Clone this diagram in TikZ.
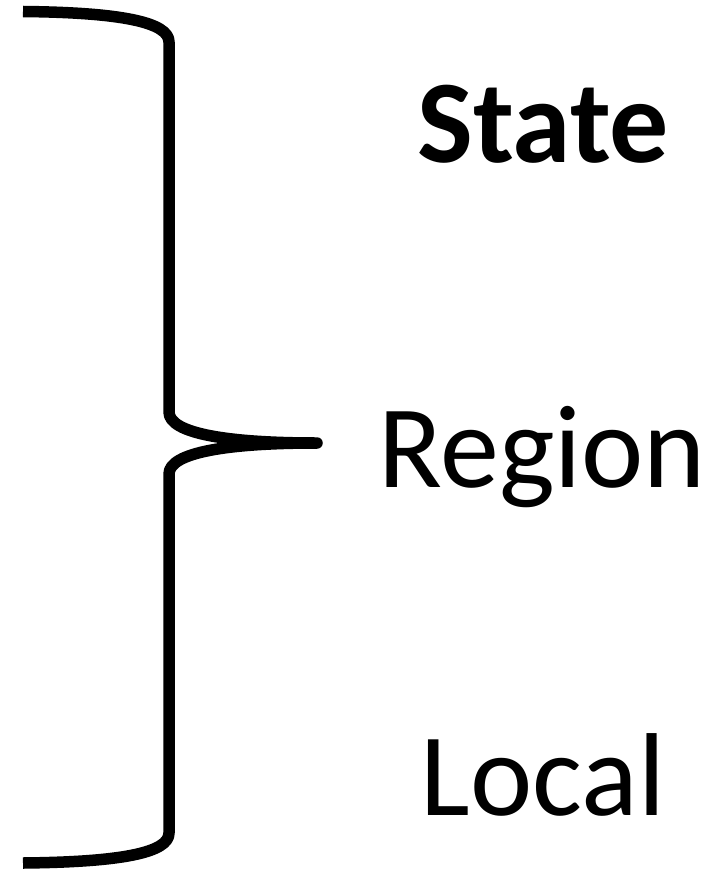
\documentclass[tikz,border=0pt]{standalone}
\usepackage{fontspec}
\setmainfont{Carlito}
\begin{document}
\begin{tikzpicture}[x=1pt,y=-1pt,
  brace/.style={line width=11.5pt,line join=round,line cap=butt},
  level/.style={anchor=base,inner sep=0pt,font=\fontsize{118}{120}\selectfont}]
\useasboundingbox (0,0) rectangle (708,869);
% right curly brace
\coordinate (tip) at (317,443);
\draw[brace] (23,11.5) .. controls (120,12.5) and (169,22) .. (169,42)
  -- (169,412) .. controls (169,434) and (230,443) .. (tip)
  .. controls (230,443) and (169,452) .. (169,474)
  -- (169,833) .. controls (169,853) and (120,862) .. (23,863);
% levels
\node[level,font=\fontsize{118}{120}\selectfont\bfseries] (state) at (543,163) {State};
\node[level] (region) at (542,487) {Region};
\node[level] (local) at (543,815) {Local};
\end{tikzpicture}
\end{document}
